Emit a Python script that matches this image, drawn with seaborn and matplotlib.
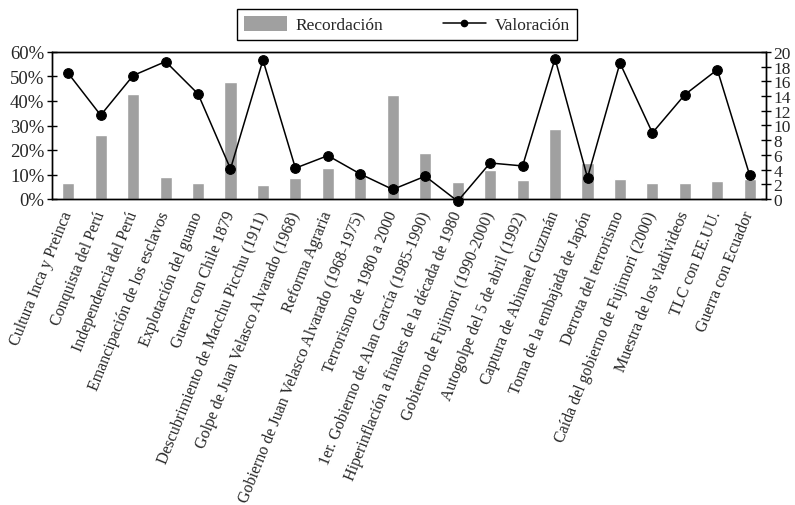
import numpy as np
import pandas as pd
import matplotlib
matplotlib.use("Agg")
import matplotlib.pyplot as plt
import seaborn as sns
from matplotlib.ticker import PercentFormatter, FixedLocator
from matplotlib.patches import Patch
from matplotlib.lines import Line2D

categories = [
    "Cultura Inca y Preinca",
    "Conquista del Perú",
    "Independencia del Perú",
    "Emancipación de los esclavos",
    "Explotación del guano",
    "Guerra con Chile 1879",
    "Descubrimiento de Macchu Picchu (1911)",
    "Golpe de Juan Velasco Alvarado (1968)",
    "Reforma Agraria",
    "Gobierno de Juan Velasco Alvarado (1968-1975)",
    "Terrorismo de 1980 a 2000",
    "1er. Gobierno de Alan García (1985-1990)",
    "Hiperinflación a finales de la década de 1980",
    "Gobierno de Fujimori (1990-2000)",
    "Autogolpe del 5 de abril (1992)",
    "Captura de Abimael Guzmán",
    "Toma de la embajada de Japón",
    "Derrota del terrorismo",
    "Caída del gobierno de Fujimori (2000)",
    "Muestra de los vladivideos",
    "TLC con EE.UU.",
    "Guerra con Ecuador",
]

recordacion = [6.5, 26.2, 43.0, 9.1, 6.5, 47.6, 5.9, 8.7, 12.8, 10.2, 42.3,
               18.8, 7.0, 11.9, 7.8, 28.6, 14.7, 8.2, 6.5, 6.5, 7.4, 8.2]
valoracion = [17.1, 11.4, 16.8, 18.7, 14.3, 4.1, 18.9, 4.2, 5.9, 3.4, 1.3,
              3.1, -0.3, 4.9, 4.5, 19.1, 2.9, 18.5, 9.0, 14.2, 17.6, 3.2]

left_ticks = [0, 10, 20, 30, 40, 50, 60]
right_ticks = [0, 2, 4, 6, 8, 10, 12, 14, 16, 18, 20]

sns.set_theme(style="white")
plt.rcParams["font.family"] = ["Liberation Serif", "DejaVu Serif"]

df = pd.DataFrame({"evento": categories, "recordacion": recordacion,
                   "valoracion": valoracion, "pos": np.arange(len(categories))})

fig = plt.figure(figsize=(7.95, 5.06), dpi=100)
ax = fig.add_axes([52 / 795, 1 - 200 / 506, (766 - 52) / 795, (200 - 53) / 506])

sns.barplot(data=df, x="evento", y="recordacion", color="#a0a0a0",
            saturation=1, width=0.37, ax=ax)
ax.set_ylim(0, 60)
ax.set_xlim(-0.5, len(categories) - 0.5)
ax.yaxis.set_major_locator(FixedLocator(left_ticks))
ax.yaxis.set_major_formatter(PercentFormatter(100, decimals=0))
ax.set_xlabel("")
ax.set_ylabel("")

ax2 = ax.twinx()
sns.lineplot(data=df, x="pos", y="valoracion", color="black", marker="o",
             markersize=7, linewidth=1.1, markeredgecolor="black", ax=ax2)
for ln in ax2.lines:
    ln.set_clip_on(False)
ax2.set_ylim(0, 20)
ax2.yaxis.set_major_locator(FixedLocator(right_ticks))
ax2.set_xlim(-0.5, len(categories) - 0.5)
ax2.set_xlabel("")
ax2.set_ylabel("")

# x ticks: labels at category centres, tick marks at boundaries
ax.set_xticks(np.arange(len(categories)))
ax.set_xticklabels(categories, rotation=68, ha="right", va="center",
                   rotation_mode="anchor", fontsize=11.5)
ax.tick_params(axis="x", which="major", length=0, pad=9)
ax.set_xticks(np.arange(-0.5, len(categories), 1.0), minor=True)
ax.tick_params(axis="x", which="minor", direction="inout", length=7,
               width=1, color="black")

ax.tick_params(axis="y", direction="inout", length=7, width=1,
               color="black", labelsize=13.5, pad=2, left=True)
ax2.tick_params(axis="y", direction="inout", length=7, width=1,
                color="black", labelsize=12.5, pad=2, right=True)

for a in (ax, ax2):
    for s in a.spines.values():
        s.set_visible(True)
        s.set_color("black")
        s.set_linewidth(1.0)

handles = [Patch(facecolor="#a0a0a0", edgecolor="none", label="Recordación"),
           Line2D([], [], color="black", marker="o", markersize=4.5,
                  linewidth=1.1, label="Valoración")]
leg = ax2.legend(handles=handles, loc="center", bbox_to_anchor=(0.497, 1.185),
                 ncol=2, frameon=True, fancybox=False, fontsize=12.5,
                 handlelength=2.5, handleheight=0.9, handletextpad=0.5,
                 columnspacing=3.4, borderpad=0.4, borderaxespad=0)
leg.get_frame().set_edgecolor("black")
leg.get_frame().set_linewidth(1.0)
leg.get_frame().set_alpha(1)

fig.savefig("out.png", dpi=100)
